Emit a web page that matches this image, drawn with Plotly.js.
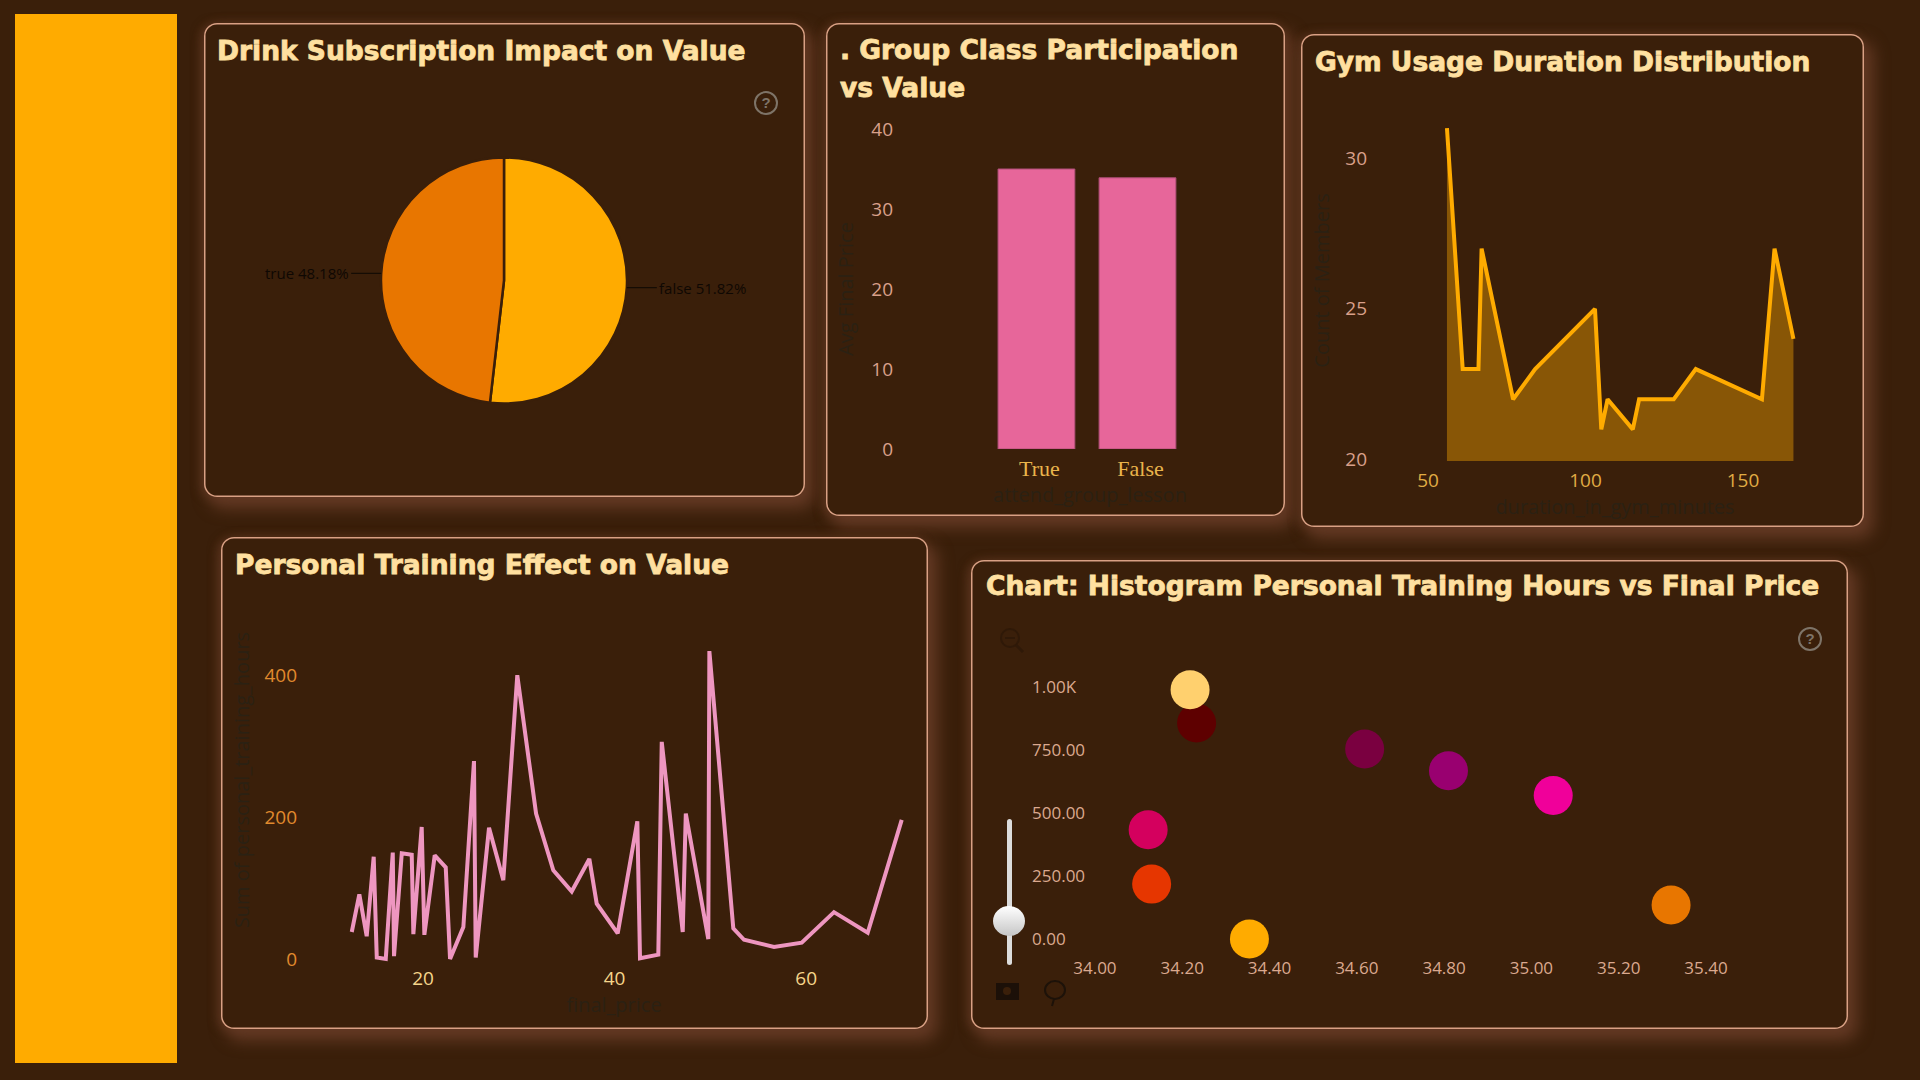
<!DOCTYPE html>
<html><head><meta charset="utf-8">
<script src="https://cdn.plot.ly/plotly-3.0.1.min.js"></script>
<style>
html,body{margin:0;padding:0;width:1920px;height:1080px;background:#3a1f0a;overflow:hidden}
.side{position:absolute;left:15px;top:14px;width:162px;height:1049px;background:#ffab00}
.card{position:absolute;border-radius:13px;background:#3a1f0a;box-shadow:inset 0 0 0 1.5px #d9a084,7px 9px 15px 3px #623823,-3px 1px 10px 1px #54301a}
.gtitle{stroke:#ffe0a0;stroke-width:.8px;paint-order:stroke}
.help{position:absolute;width:20px;height:20px;border:2px solid #7e7468;border-radius:50%;color:#7e7468;font:bold 15px/20px "Liberation Sans";text-align:center}
.track{position:absolute;left:1006.5px;top:819px;width:5px;height:146px;border-radius:3px;background:#dcdcdc}
.thumb{position:absolute;left:993px;top:906px;width:32px;height:30px;border-radius:50%;background:linear-gradient(#ffffff,#c6c6c6)}
svg.ic{position:absolute}
</style></head><body>
<div class="side"></div>
<div class="card" id="c1" style="left:204px;top:23px;width:601px;height:474px"></div>
<div class="card" id="c2" style="left:826px;top:23px;width:459px;height:493px"></div>
<div class="card" id="c3" style="left:1301px;top:34px;width:563px;height:493px"></div>
<div class="card" id="c4" style="left:221px;top:537px;width:707px;height:492px"></div>
<div class="card" id="c5" style="left:971px;top:560px;width:877px;height:469px"></div>
<div class="help" style="left:754px;top:91px">?</div>
<div class="help" style="left:1798px;top:627px">?</div>
<div class="track"></div><div class="thumb"></div>
<svg class="ic" style="left:995px;top:625px" width="34" height="32"><circle cx="15" cy="13" r="9" fill="none" stroke="#2f1908" stroke-width="2"/><line x1="21" y1="20" x2="28" y2="27" stroke="#2f1908" stroke-width="3"/><line x1="10" y1="13" x2="20" y2="13" stroke="#2f1908" stroke-width="2"/></svg>
<svg class="ic" style="left:994px;top:980px" width="28" height="24"><rect x="2" y="3" width="23" height="17" fill="#1c1008"/><circle cx="13" cy="11" r="4" fill="#3a1f0a"/></svg>
<svg class="ic" style="left:1042px;top:978px" width="28" height="30"><ellipse cx="13" cy="12" rx="10" ry="9" fill="none" stroke="#1d1209" stroke-width="2"/><path d="M12 21 L10 28" stroke="#1d1209" stroke-width="2"/></svg>
<script>
// ---- data ----
const pieLabels = ['false','true'];
const pieValues = [51.82,48.18];
const pieColors = ['#ffab00','#e87600'];

const groupCats = ['True','False'];
const groupVals = [35.0,33.9];

const durMinutes = [56,61,66,67,77,84,103,105,107,115,117,128,135,156,160,166];
const durCounts  = [31,23,23,27,22,23,25,21,22,21,22,22,23,22,27,24];

const priceX = [12.56,13.35,14.12,14.85,15.17,16.11,16.84,16.97,17.78,18.82,18.99,19.86,20.14,21.22,22.37,22.82,24.21,25.32,25.5,26.89,28.38,29.84,31.8,33.6,35.52,37.36,38.13,40.32,42.37,42.65,44.56,44.92,47.11,47.43,49.78,49.89,52.39,53.51,56.64,59.53,62.9,66.42,69.97];
const trainingY = [38,91,32,144,2,0,150,4,149,147,35,186,34,146,129,0,45,279,2,185,111,400,205,125,95,141,78,36,194,1,6,306,38,205,28,434,43,27,17,23,66,37,196];

const scatterX = [34.233,34.218,34.618,34.81,35.05,34.122,34.13,35.32,34.354];
const scatterY = [858,990,755,668,570,434,218,135,0];
const scatterColors = ['#5e0000','#ffd06e','#7a0040','#990070','#f0009a','#d4005e','#e63600','#e87600','#ffab00'];
const scatterYTicks = [0,250,500,750,1000];
const scatterYText = ['0.00','250.00','500.00','750.00','1.00K'];

const titles = {
 c1:'Drink Subscription Impact on Value',
 c2:'. Group Class Participation<br>vs Value',
 c3:'Gym Usage Duration Distribution',
 c4:'Personal Training Effect on Value',
 c5:'Chart: Histogram Personal Training Hours vs Final Price'
};
// ---- style ----
const tickFont='"Open Sans"';
const axisDark='#2b2113';
const cfg={displayModeBar:false,staticPlot:true};
function base(id,w,h,m,titleX,titleY){
 return {width:w,height:h,autosize:false,margin:m,paper_bgcolor:'rgba(0,0,0,0)',plot_bgcolor:'rgba(0,0,0,0)',showlegend:false,
  title:{text:titles[id],x:titleX/w,xref:'container',xanchor:'left',y:1-titleY/h,yref:'container',yanchor:'top',font:{family:'"DejaVu Sans"',size:26.5,weight:700,color:'#ffe0a0'}}};
}
function axis(extra){return Object.assign({showgrid:false,zeroline:false,showline:false,ticks:'',automargin:false},extra);}
function atitle(t,st){return {text:t,font:{family:tickFont,size:20,color:axisDark},standoff:st};}

// pie leader labels, placed from the slice angles
let cum=0;const pieAnn=pieValues.map((v,i)=>{
 const total=pieValues.reduce((a,b)=>a+b,0);
 const a=(cum+v/2)/total*2*Math.PI;cum+=v;
 const right=Math.sin(a)>0;
 return {xref:'paper',yref:'paper',x:.5+.5*Math.sin(a),y:.5+.5*Math.cos(a),axref:'pixel',ayref:'pixel',ax:right?30:-30,ay:0,
  text:pieLabels[i]+' '+v.toFixed(2)+'%',showarrow:true,arrowhead:0,arrowwidth:1.3,arrowcolor:'#150c04',standoff:0,
  xanchor:right?'left':'right',yanchor:'middle',font:{family:tickFont,size:15,color:'#0f0803'}};
});
const p1=Plotly.newPlot('c1',[{type:'pie',labels:pieLabels,values:pieValues,sort:false,direction:'clockwise',rotation:0,
  marker:{colors:pieColors,line:{color:'#3a1f0a',width:2.5}},textinfo:'none',hoverinfo:'skip'}],
 Object.assign(base('c1',601,474,{l:177,r:178,t:134,b:93,pad:0},13,18),{annotations:pieAnn}),cfg);

const p2=Plotly.newPlot('c2',[{type:'bar',x:groupCats,y:groupVals,marker:{color:'#e7669a',line:{color:'#b04f78',width:1}},width:.76}],
 Object.assign(base('c2',459,493,{l:71,r:2,t:106,b:67,pad:0},14,36),{
  bargap:.24,
  xaxis:axis({type:'category',categoryorder:'array',categoryarray:groupCats,range:[-1.38,2.44],ticklabelshift:3,ticklabelstandoff:4,tickfont:{family:'"Liberation Serif"',size:22,color:'#e9b44c'},title:atitle('attend_group_lesson',2)}),
  yaxis:axis({range:[0,40],tickvals:[0,10,20,30,40],ticklabelstandoff:3,tickfont:{family:tickFont,size:19,color:'#d9a08a'},title:atitle('Avg Final Price',12)})
 }),cfg);

const p3=Plotly.newPlot('c3',[{type:'scatter',mode:'lines',x:durMinutes,y:durCounts,fill:'tozeroy',fillcolor:'rgba(255,171,0,.40)',line:{color:'#ffab00',width:4,shape:'linear'}}],
 Object.assign(base('c3',563,493,{l:71,r:6,t:66,b:66,pad:0},14,18),{
  xaxis:axis({range:[32.2,186.5],tickvals:[50,100,150],ticklabelstandoff:6,tickfont:{family:tickFont,size:19,color:'#e0ac44'},title:atitle('duration_in_gym_minutes',2)}),
  yaxis:axis({range:[19.95,31.93],tickvals:[20,25,30],ticklabelstandoff:4,tickfont:{family:tickFont,size:19,color:'#d9a08a'},title:atitle('Count of Members',10)})
 }),cfg);

const p4=Plotly.newPlot('c4',[{type:'scatter',mode:'lines',x:priceX,y:trainingY,line:{color:'#ee96c0',width:4,shape:'linear'},cliponaxis:false}],
 Object.assign(base('c4',707,492,{l:82,r:3,t:58,b:64,pad:0},14,18),{
  xaxis:axis({range:[7.47,72.4],tickvals:[20,40,60],tickfont:{family:tickFont,size:19,color:'#f5d58a'},title:atitle('final_price',3)}),
  yaxis:axis({range:[-8.5,513],tickvals:[0,200,400],ticklabelstandoff:5,tickfont:{family:tickFont,size:19,color:'#e08a2e'},title:atitle('Sum of personal_training_hours',9)})
 }),cfg);

const p5=Plotly.newPlot('c5',[{type:'scatter',mode:'markers',x:scatterX,y:scatterY,marker:{size:39,color:scatterColors,opacity:1},cliponaxis:false}],
 Object.assign(base('c5',877,469,{l:58,r:8,t:91,b:73,pad:0},15,16),{
  xaxis:axis({range:[33.849,35.707],tickvals:[34,34.2,34.4,34.6,34.8,35,35.2,35.4],tickformat:'.2f',tickfont:{family:tickFont,size:17,color:'#dba98f'}}),
  yaxis:axis({range:[-67.5,1144],tickvals:scatterYTicks,ticktext:scatterYText,ticklabelposition:'inside',tickfont:{family:tickFont,size:17,color:'#dba98f'}})
 }),cfg);

// the reference's two-line title has a wider line step than the library default
p2.then(gd=>{const l=gd.querySelectorAll('.gtitle .line');if(l[1])l[1].setAttribute('dy','38px');});
</script>
</body></html>
